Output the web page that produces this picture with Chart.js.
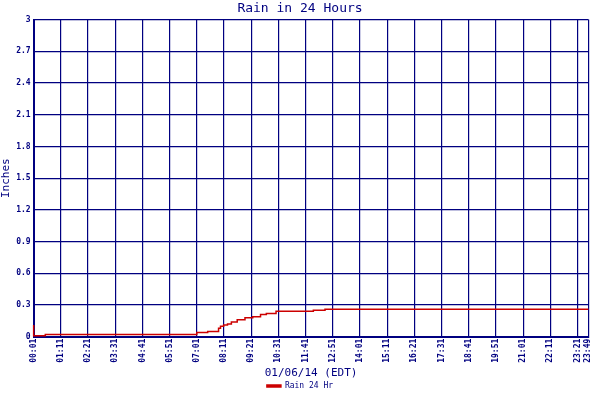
<!DOCTYPE html>
<html><head><meta charset="utf-8">
<script src="https://cdn.jsdelivr.net/npm/chart.js@4"></script>
<style>html,body{margin:0;background:#fff}#w{width:600px;height:400px}</style>
</head><body><div id="w"><canvas id="c"></canvas></div>
<script>
const tickLabels=["00:01","01:11","02:21","03:31","04:41","05:51","07:01","08:11","09:21","10:31","11:41","12:51","14:01","15:11","16:21","17:31","18:41","19:51","21:01","22:11","23:21","23:49"];
const times=[1,31,421,449,477,482,490,500,510,525,545,565,585,600,625,721,751,960,1429];
const rain=[0.11,0.01,0.02,0.04,0.05,0.08,0.10,0.11,0.12,0.14,0.16,0.18,0.19,0.21,0.22,0.24,0.25,0.26,0.26];
const toMin=s=>{const [h,m]=s.split(':').map(Number);return h*60+m;};
const navy='#000080';
const F='DejaVu Sans Mono';
new Chart(document.getElementById('c'),{
type:'line',
data:{datasets:[{label:'Rain 24 Hr',data:times.map((t,i)=>({x:t,y:rain[i]})),borderColor:'#cc0000',backgroundColor:'#cc0000',borderWidth:1.5,pointRadius:0,stepped:'after',clip:false}]},
options:{animation:false,responsive:true,maintainAspectRatio:false,
layout:{padding:{top:0,right:0,left:0,bottom:0}},
plugins:{title:{display:true,text:'Rain in 24 Hours',color:navy,font:{family:F,size:13,weight:'normal'},padding:{top:1,bottom:3}},
legend:{position:'bottom',labels:{color:navy,font:{family:F,size:8},boxWidth:14,boxHeight:2,padding:2}}},
scales:{
x:{type:'linear',min:toMin(tickLabels[0]),max:toMin(tickLabels[tickLabels.length-1]),
afterBuildTicks:a=>{a.ticks=tickLabels.map(l=>({value:toMin(l)}));},
ticks:{autoSkip:false,maxRotation:90,minRotation:90,color:navy,font:{family:F,size:8,weight:'bold'},padding:2,
callback:(v)=>{const i=tickLabels.findIndex(l=>toMin(l)===v);return i>=0?tickLabels[i]:'';}},
grid:{color:navy,lineWidth:1.2,drawTicks:false},border:{color:navy,width:2},
title:{display:true,text:'01/06/14 (EDT)',color:navy,font:{family:F,size:11},padding:{top:2,bottom:0}}},
y:{min:0,max:3,afterBuildTicks:a=>{a.ticks=[0,0.3,0.6,0.9,1.2,1.5,1.8,2.1,2.4,2.7,3].map(v=>({value:v}));},
ticks:{color:navy,font:{family:F,size:8,weight:'bold'},padding:3,callback:v=>String(+v.toFixed(1))},
grid:{color:navy,lineWidth:1.2,drawTicks:false},border:{color:navy,width:2},
title:{display:true,text:'Inches',color:navy,font:{family:F,size:11},padding:{top:0,bottom:0}}}
}}});
</script></body></html>
